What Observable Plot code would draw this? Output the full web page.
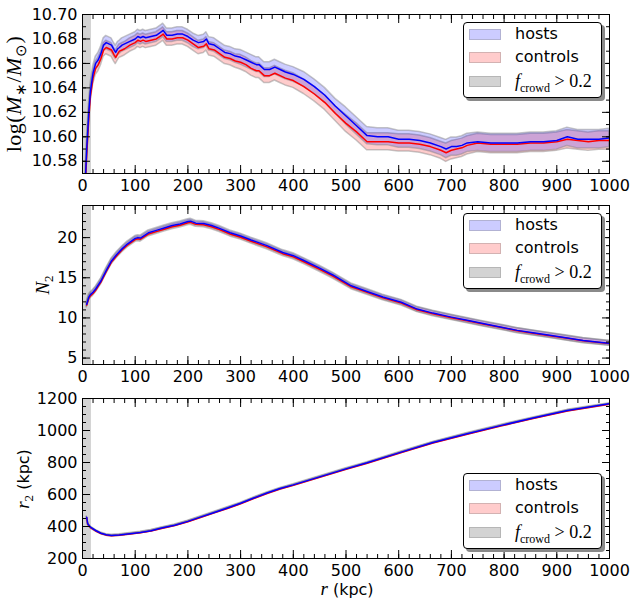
<!DOCTYPE html>
<html><head><meta charset="utf-8">
<script src="https://cdn.jsdelivr.net/npm/d3@7"></script>
<script src="https://cdn.jsdelivr.net/npm/@observablehq/plot@0.6"></script>
<style>
body{margin:0;background:#fff;}
#fig{position:relative;width:632px;height:601px;font-family:"DejaVu Sans",sans-serif;color:#000;overflow:hidden;}
#fig svg{position:absolute;left:0;}
.ylab{position:absolute;transform:translate(-50%,-50%) rotate(-90deg);white-space:nowrap;line-height:1;}
.xlab{position:absolute;transform:translate(-50%,-50%);white-space:nowrap;line-height:1;font-size:16px;}
.m{font-family:"Liberation Serif",serif;}
.legend{position:absolute;left:463px;width:137px;height:74px;border:1px solid #000;border-radius:4px;background:#fff;box-shadow:3px 3px 0 #8a8a8a;box-sizing:content-box;}
.sw{position:absolute;left:5px;width:32px;height:11px;box-sizing:border-box;border:1px solid rgba(128,128,128,0.35);}
.lt{position:absolute;left:51px;font-size:16px;line-height:16px;white-space:nowrap;}
</style></head><body><div id="fig"></div>
<script>
// ---------- data ----------
const crowdLimit = 17; // kpc, f_crowd > 0.2 region

// Panel 1: log(M*/Msun)
const r1 = [5,8,10,12,15,20,25,30,35,40,45,50,55,60,63,67,70,75,80,90,100,105,110,115,120,130,140,150,153,160,170,180,190,200,210,220,230,235,240,250,260,270,280,290,300,310,320,330,335,345,355,365,375,385,400,420,440,460,480,500,520,540,560,580,600,620,640,660,680,690,700,710,720,730,750,775,800,825,850,875,900,920,940,960,980,1000];
const hosts1 = [10.560,10.590,10.605,10.620,10.637,10.652,10.660,10.663,10.668,10.675,10.677,10.676,10.675,10.671,10.669,10.672,10.673,10.675,10.676,10.678,10.680,10.682,10.681,10.682,10.681,10.682,10.683,10.686,10.687,10.683,10.683,10.684,10.684,10.682,10.679,10.677,10.678,10.680,10.676,10.675,10.672,10.669,10.668,10.666,10.665,10.663,10.661,10.659,10.659,10.655,10.655,10.657,10.655,10.653,10.651,10.647,10.641,10.634,10.625,10.617,10.609,10.601,10.600,10.600,10.598,10.598,10.597,10.595,10.592,10.590,10.592,10.592,10.593,10.595,10.596,10.595,10.595,10.595,10.596,10.596,10.597,10.600,10.598,10.598,10.598,10.599];
const controls1 = [10.555,10.585,10.600,10.615,10.633,10.648,10.656,10.659,10.664,10.671,10.673,10.672,10.671,10.667,10.665,10.668,10.670,10.671,10.672,10.675,10.677,10.679,10.678,10.679,10.678,10.679,10.680,10.683,10.684,10.680,10.680,10.681,10.681,10.679,10.676,10.673,10.674,10.676,10.672,10.671,10.668,10.665,10.664,10.662,10.661,10.659,10.656,10.654,10.654,10.650,10.650,10.652,10.650,10.648,10.646,10.641,10.635,10.628,10.619,10.611,10.604,10.596,10.596,10.596,10.595,10.595,10.594,10.592,10.589,10.587,10.589,10.590,10.591,10.593,10.595,10.594,10.594,10.594,10.595,10.595,10.596,10.598,10.597,10.596,10.597,10.597];
const err1 = [0.0055,0.0055,0.0055,0.0055,0.0055,0.0055,0.0055,0.0055,0.0055,0.0055,0.0055,0.0055,0.0055,0.0055,0.0055,0.0055,0.0055,0.0055,0.0055,0.0055,0.0055,0.0055,0.0055,0.0055,0.0055,0.0055,0.0055,0.0055,0.0055,0.0055,0.0055,0.0055,0.0055,0.0055,0.0055,0.0055,0.0055,0.0055,0.0055,0.0055,0.0055,0.0055,0.0055,0.0055,0.006,0.006,0.006,0.006,0.006,0.006,0.006,0.006,0.006,0.006,0.006,0.006,0.006,0.006,0.006,0.007,0.007,0.007,0.007,0.007,0.007,0.007,0.007,0.007,0.007,0.0075,0.0075,0.0075,0.0075,0.0075,0.0075,0.0075,0.0075,0.0075,0.0075,0.0075,0.0075,0.0075,0.0075,0.0075,0.0075,0.0075];

// Panel 2: N_2
const r2 = [8,12,15,20,25,30,35,45,55,65,75,85,100,105,110,125,140,155,170,185,200,205,215,230,245,260,280,300,320,350,380,400,420,450,475,510,540,570,605,635,665,700,730,760,795,825,855,890,920,950,985,1000];
const hosts2 = [11.7,12.6,12.9,13.2,13.6,14.1,14.6,15.9,17.1,17.9,18.6,19.2,19.9,20.0,19.95,20.6,20.9,21.2,21.5,21.7,22.0,22.05,21.8,21.75,21.5,21.15,20.6,20.2,19.7,19.0,18.15,17.75,17.15,16.2,15.35,14.0,13.3,12.6,11.95,11.1,10.6,10.1,9.7,9.3,8.85,8.45,8.15,7.8,7.5,7.2,6.95,6.85];
const controls2 = [11.6,12.45,12.75,13.05,13.45,13.95,14.45,15.75,16.95,17.75,18.45,19.05,19.75,19.85,19.8,20.45,20.75,21.05,21.35,21.55,21.85,21.9,21.65,21.6,21.35,21.0,20.45,20.05,19.55,18.85,18.0,17.6,17.0,16.05,15.2,13.88,13.18,12.5,11.85,11.02,10.52,10.03,9.64,9.24,8.8,8.4,8.1,7.76,7.46,7.16,6.92,6.82];
const err2 = 0.3;

// Panel 3: r_2 (kpc)
const r3 = [8,10,15,25,35,45,55,70,90,110,130,150,175,200,225,250,275,300,325,350,375,400,425,450,475,500,540,605,665,730,795,855,920,1000];
const hosts3 = [458,417,396,375,358,348,344,347,355,363,374,390,408,432,460,488,516,545,578,609,637,660,685,710,735,760,798,865,925,980,1032,1078,1125,1167];
const controls3 = [456,414,393,372,356,346,342,345,353,361,372,388,406,430,457,485,513,542,575,606,634,657,682,707,732,757,795,862,922,977,1029,1075,1122,1164];
const err3 = 4;

// ticks
const xMajor = [0,100,200,300,400,500,600,700,800,900,1000];
const yMajor1 = [10.58,10.60,10.62,10.64,10.66,10.68,10.70];
const yMajor2 = [5,10,15,20];
const yMajor3 = [200,400,600,800,1000,1200];

// ---------- drawing ----------
const fig = document.getElementById("fig");
const none = () => "";
const xMinor = d3.range(0, 1001, 20);

function axes(yMaj, yMin, yFmt) {
  return [
    Plot.axisX(xMinor, {anchor: "bottom", tickSize: -4, tickFormat: none, label: null}),
    Plot.axisX(xMinor, {anchor: "top", tickSize: -4, tickFormat: none, label: null}),
    Plot.axisX(xMajor, {anchor: "top", tickSize: -8, tickFormat: none, label: null}),
    Plot.axisX(xMajor, {anchor: "bottom", tickSize: -8, tickPadding: 14, tickFormat: d => String(d), label: null}),
    Plot.axisY(yMin, {anchor: "left", tickSize: -4, tickFormat: none, label: null}),
    Plot.axisY(yMin, {anchor: "right", tickSize: -4, tickFormat: none, label: null}),
    Plot.axisY(yMaj, {anchor: "right", tickSize: -8, tickFormat: none, label: null}),
    Plot.axisY(yMaj, {anchor: "left", tickSize: -8, tickPadding: 13, tickFormat: yFmt, label: null})
  ];
}

function panel({r, h, c, e, yDomain, yMaj, yMin, yFmt, top, height, mt, mb}) {
  const data = r.map((rv, i) => ({r: rv, h: h[i], c: c[i], e: Array.isArray(e) ? e[i] : e}));
  const svg = Plot.plot({
    width: 632, height,
    marginLeft: 82, marginRight: 23, marginTop: mt, marginBottom: mb,
    x: {domain: [0, 1000]},
    y: {domain: yDomain},
    style: {fontFamily: "DejaVu Sans", fontSize: "16px", background: "transparent", overflow: "visible", color: "black"},
    marks: [
      Plot.rect([crowdLimit], {x1: 0, x2: d => d, fill: "#d3d3d3"}),
      Plot.areaY(data, {x: "r", y1: d => d.c - d.e, y2: d => d.c + d.e, fill: "red", fillOpacity: 0.2, stroke: "#808080", strokeOpacity: 0.45, strokeWidth: 1.5, clip: true}),
      Plot.areaY(data, {x: "r", y1: d => d.h - d.e, y2: d => d.h + d.e, fill: "blue", fillOpacity: 0.2, stroke: "#808080", strokeOpacity: 0.45, strokeWidth: 1.5, clip: true}),
      Plot.line(data, {x: "r", y: "c", stroke: "red", strokeWidth: 1.5, clip: true}),
      Plot.line(data, {x: "r", y: "h", stroke: "blue", strokeWidth: 1.5, clip: true}),
      Plot.frame({stroke: "black", strokeWidth: 1}),
      ...axes(yMaj, yMin, yFmt)
    ]
  });
  svg.style.top = top + "px";
  fig.appendChild(svg);
}

panel({r: r1, h: hosts1, c: controls1, e: err1, yDomain: [10.57, 10.70], yMaj: yMajor1,
  yMin: d3.range(0, 14).map(i => 10.57 + i * 0.01), yFmt: d3.format(".2f"),
  top: 0, height: 195, mt: 14, mb: 22});
panel({r: r2, h: hosts2, c: controls2, e: err2, yDomain: [4.2, 24], yMaj: yMajor2,
  yMin: d3.range(5, 25, 1), yFmt: d => String(d),
  top: 190, height: 195, mt: 15, mb: 21});
panel({r: r3, h: hosts3, c: controls3, e: err3, yDomain: [200, 1200], yMaj: yMajor3,
  yMin: d3.range(200, 1201, 50), yFmt: d => String(d),
  top: 385, height: 216, mt: 13, mb: 43});

// axis titles
function addHTML(html, cls, x, y, extra = "") {
  const d = document.createElement("div");
  d.className = cls;
  d.style.cssText = `left:${x}px;top:${y}px;${extra}`;
  d.innerHTML = html;
  fig.appendChild(d);
}
addHTML(`<span class="m" style="font-size:22px;letter-spacing:0.5px">log(<i>M</i><sub style="font-size:15px">∗</sub>/<i>M</i><sub style="font-size:15px">⊙</sub>)</span>`, "ylab", 16, 94);
addHTML(`<span class="m" style="font-size:19px"><i>N</i><sub style="font-size:13px">2</sub></span>`, "ylab", 44, 285);
addHTML(`<span class="m" style="font-size:19px"><i>r</i><sub style="font-size:13px">2</sub></span><span style="font-size:16px"> (kpc)</span>`, "ylab", 24, 479);
addHTML(`<span class="m" style="font-size:19px"><i>r</i></span> (kpc)`, "xlab", 347, 588);

// legends
const legendItems = [
  {sw: "rgba(0,0,255,0.2)", label: "hosts"},
  {sw: "rgba(255,0,0,0.2)", label: "controls"},
  {sw: "#d3d3d3", label: `<span class="m" style="font-size:18px"><i>f</i><sub style="font-size:12px">crowd</sub> &gt; 0.2</span>`}
];
function legend(top) {
  const L = document.createElement("div");
  L.className = "legend";
  L.style.top = top + "px";
  legendItems.forEach((it, i) => {
    const cy = 12 + i * 23.3;
    const s = document.createElement("div");
    s.className = "sw";
    s.style.top = (cy - 6) + "px";
    s.style.background = it.sw;
    L.appendChild(s);
    const t = document.createElement("div");
    t.className = "lt";
    t.style.top = (cy - 9) + "px";
    t.innerHTML = it.label;
    L.appendChild(t);
  });
  fig.appendChild(L);
}
legend(22);
legend(213);
legend(473);
</script></body></html>
